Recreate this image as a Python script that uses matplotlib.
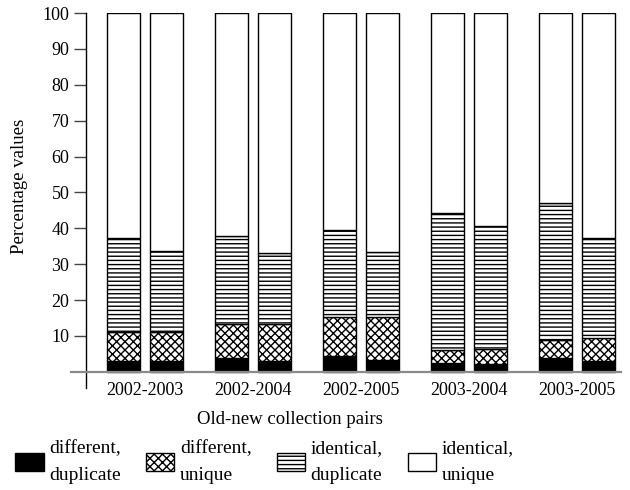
import matplotlib
matplotlib.use("Agg")
import matplotlib.pyplot as plt
import numpy as np

plt.rcParams["font.family"] = ["Liberation Serif", "DejaVu Serif"]
plt.rcParams["hatch.linewidth"] = 1.0

pairs = ["2002-2003", "2002-2004", "2002-2005", "2003-2004", "2003-2005"]

# two bars per pair (old collection, new collection), percentages per class
diff_dup = [3.1, 2.9, 3.8, 2.9, 4.5, 3.3, 2.6, 2.2, 3.8, 2.9]
diff_uniq = [7.9, 8.1, 9.4, 10.3, 10.9, 12.1, 3.5, 4.1, 5.1, 6.4]
ident_dup = [26.2, 22.8, 24.6, 19.8, 24.1, 18.0, 38.1, 34.4, 38.1, 27.9]
ident_uniq = [62.8, 66.2, 62.2, 67.0, 60.5, 66.6, 55.8, 59.3, 53.0, 62.8]

labels = ["different,\nduplicate", "different,\nunique",
          "identical,\nduplicate", "identical,\nunique"]
series = [diff_dup, diff_uniq, ident_dup, ident_uniq]
faces = ["black", "white", "white", "white"]
hatches = [None, "xxxx", "----", None]

fig = plt.figure(figsize=(6.3, 4.9), dpi=100)
ax = fig.add_axes([86 / 630, 1 - 388 / 490, (623 - 86) / 630, (388 - 13) / 490])

groups = np.arange(len(pairs))
xs = np.ravel(np.column_stack([groups - 0.199, groups + 0.199]))
width = 0.306

bottom = np.zeros(len(xs))
handles = []
for vals, fc, h, lab in zip(series, faces, hatches, labels):
    bars = ax.bar(xs, vals, width, bottom=bottom, color=fc, edgecolor="black",
                  linewidth=1.0, hatch=h, label=lab, zorder=2)
    handles.append(bars)
    bottom += np.array(vals)

ax.set_xlim(-0.546, 4.426)
ax.set_ylim(-4.5, 100)
ax.set_yticks(np.arange(10, 101, 10))
ax.set_xticks(groups)
ax.set_xticklabels(pairs)
ax.tick_params(axis="x", length=0, labelsize=13, pad=-4)
ax.tick_params(axis="y", length=9, width=1, color="#444444", labelsize=13, pad=3)

for side in ["top", "right", "bottom"]:
    ax.spines[side].set_visible(False)
ax.spines["left"].set_linewidth(1.0)

# baseline at zero, reaching a little past the y axis
ax.plot([-0.028, 0.997], [0, 0], transform=ax.get_yaxis_transform(),
        color="#8a8a8a", linewidth=1.6, clip_on=False, zorder=3)

fig.text(20 / 630, 1 - 186 / 490, "Percentage values", rotation=90,
         ha="center", va="center", fontsize=13.5)
fig.text(290 / 630, 1 - 419 / 490, "Old-new collection pairs",
         ha="center", va="center", fontsize=13.5)

leg = fig.legend(handles=handles, loc="lower left", bbox_to_anchor=(0.012, -0.004),
                 ncol=4, frameon=False, fontsize=14, handlelength=1.45,
                 handleheight=1.05, handletextpad=0.3, columnspacing=1.28,
                 borderaxespad=0, labelspacing=0.2)
for t in leg.get_texts():
    t.set_linespacing(1.8)

fig.savefig("out.png", dpi=100)
